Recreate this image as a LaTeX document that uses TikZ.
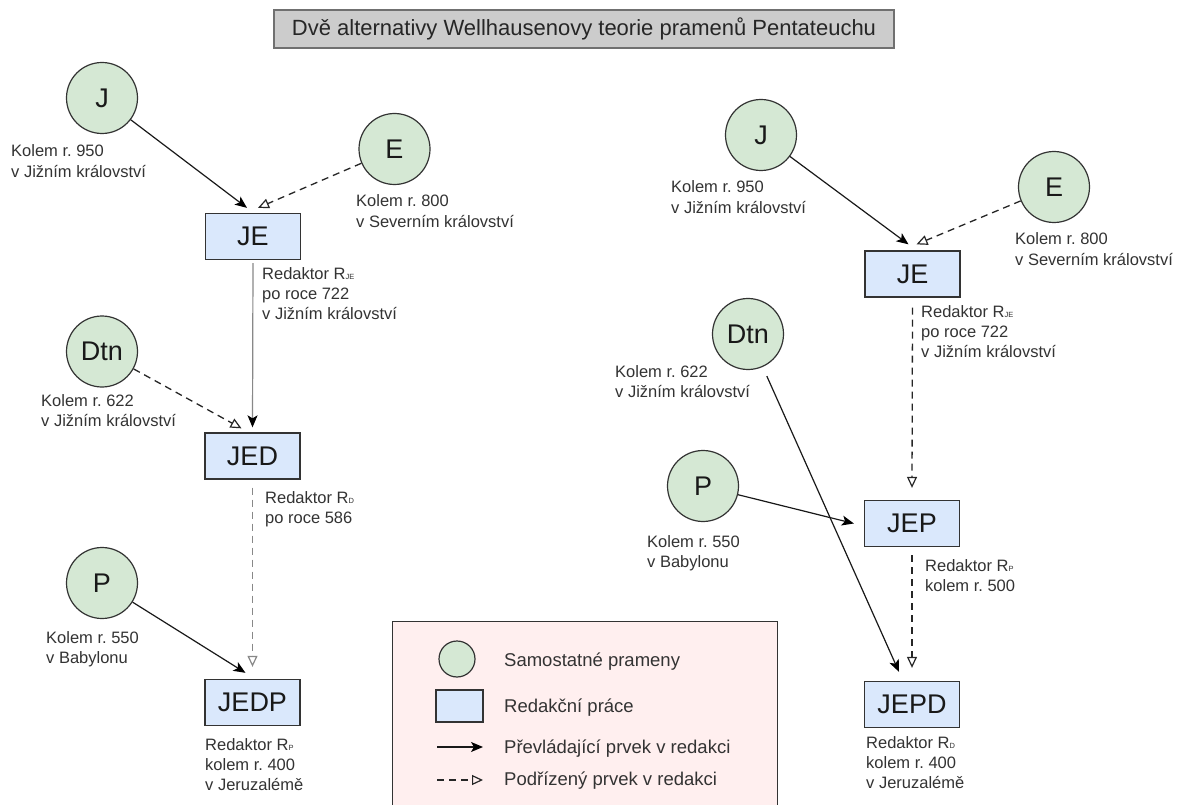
\documentclass[tikz,border=0pt]{standalone}
\usepackage{fontspec}
\setmainfont{Liberation Sans}
\usetikzlibrary{arrows.meta,calc}
\frenchspacing
\definecolor{srcfill}{HTML}{D5E8D4}
\definecolor{redfill}{HTML}{DAE8FC}
\definecolor{titlefill}{HTML}{CCCCCC}
\definecolor{titleedge}{HTML}{707070}
\definecolor{legfill}{HTML}{FFEFEF}
\definecolor{edgecol}{HTML}{333333}
\definecolor{labelcol}{HTML}{333333}
\definecolor{greyline}{HTML}{888888}
\newcommand\rsub[1]{\raisebox{-0.3pt}{\fontsize{7.5}{8}\selectfont #1}}
\begin{document}
\begin{tikzpicture}[x=1pt,y=-1pt,
  srcnode/.style={circle,draw=edgecol,line width=1.2pt,fill=srcfill,minimum size=71pt,inner sep=0pt,font=\fontsize{27}{27}\selectfont,text=black!90},
  redbox/.style={rectangle,draw=edgecol,line width=1.3pt,fill=redfill,minimum width=95pt,minimum height=46pt,inner sep=0pt,font=\fontsize{27}{27}\selectfont,text=black!90},
  lbl/.style={anchor=base west,align=left,inner sep=0pt,font=\fontsize{16.5}{20.3}\selectfont,text=labelcol},
  leglbl/.style={anchor=base west,inner sep=0pt,font=\fontsize{18.5}{22}\selectfont,text=labelcol},
  major/.style={line width=1.2pt,draw=black!90,-{Stealth[length=12pt,width=10pt,inset=3pt,color=black]}},
  minor/.style={line width=1.3pt,draw=black!85,dash pattern=on 7pt off 5pt,-{Triangle[open,length=11pt,width=10pt,line width=1.2pt]}},
]
\useasboundingbox (0,0) rectangle (1187,805);
\path[clip] (0,0) rectangle (1187,805);
\fill[white] (0,0) rectangle (1187,805);

% title
\node[draw=titleedge,line width=1.8pt,fill=titlefill,minimum width=620pt,minimum height=38pt,inner sep=0pt,font=\fontsize{22}{22}\selectfont,text=black!85] (title) at (584,29) {Dvě alternativy Wellhausenovy teorie pramenů Pentateuchu};

% ---------- left diagram ----------
\node[srcnode] (LJ) at (102,98) {J};
\node[srcnode] (LE) at (394.5,149) {E};
\node[srcnode] (LD) at (102,351.5) {Dtn};
\node[srcnode] (LP) at (102,583) {P};
\node[redbox] (LJE) at (253,236.5) {JE};
\node[redbox] (LJED) at (252.5,456) {JED};
\node[redbox] (LJEDP) at (252.5,702.5) {JEDP};

% anchor = baseline of the last line
\node[lbl] (LJl) at (11,177.3) {Kolem r. 950\\v Jižním království};
\node[lbl] (LEl) at (356,227.3) {Kolem r. 800\\v Severním království};
\node[lbl] (LJEl) at (262,319.6) {Redaktor R\rsub{JE}\\po roce 722\\v Jižním království};
\node[lbl] (LDl) at (41,426.3) {Kolem r. 622\\v Jižním království};
\node[lbl] (LJEDl) at (265,523.3) {Redaktor R\rsub{D}\\po roce 586};
\node[lbl] (LPl) at (46,663.3) {Kolem r. 550\\v Babylonu};
\node[lbl] (LJEDPl) at (205,790.6) {Redaktor R\rsub{P}\\kolem r. 400\\v Jeruzalémě};

\draw[major] (LJ) -- ([shift={(-6,-5)}]LJE.north);
\draw[minor] (LE) -- ([shift={(5,-5)}]LJE.north);
\draw[major,draw=greyline] ([shift={(0,3)}]LJE.south) -- ([shift={(0,-5)}]LJED.north);
\draw[minor] (LD) -- ([shift={(-11,-4)}]LJED.north);
\draw[minor,draw=greyline] ([shift={(0,8)}]LJED.south) -- ([shift={(0,-12)}]LJEDP.north);
\draw[major] (LP) -- ([shift={(-7,-6)}]LJEDP.north);

% ---------- right diagram ----------
\node[srcnode] (RJ) at (761,135) {J};
\node[srcnode] (RE) at (1054,187) {E};
\node[srcnode] (RD) at (748,334) {Dtn};
\node[srcnode] (RP) at (703,486) {P};
\node[redbox] (RJE) at (912.5,274) {JE};
\node[redbox] (RJEP) at (912,523.5) {JEP};
\node[redbox] (RJEPD) at (912,704.5) {JEPD};

\node[lbl] (RJl) at (671,213.3) {Kolem r. 950\\v Jižním království};
\node[lbl] (REl) at (1015,265.3) {Kolem r. 800\\v Severním království};
\node[lbl] (RJEl) at (921,357.6) {Redaktor R\rsub{JE}\\po roce 722\\v Jižním království};
\node[lbl] (RDl) at (615,397.3) {Kolem r. 622\\v Jižním království};
\node[lbl] (RPl) at (647,567.3) {Kolem r. 550\\v Babylonu};
\node[lbl] (RJEPl) at (925,591.3) {Redaktor R\rsub{P}\\kolem r. 500};
\node[lbl] (RJEPDl) at (866,788.6) {Redaktor R\rsub{D}\\kolem r. 400\\v Jeruzalémě};

\draw[major] (RJ) -- ([shift={(-4,-6)}]RJE.north);
\draw[minor] (RE) -- ([shift={(4,-6)}]RJE.north);
\draw[minor] ([shift={(0,10)}]RJE.south) -- ([shift={(0,-12)}]RJEP.north);
\draw[major,shorten <=10pt] (RD) -- ([shift={(-13,-9)}]RJEPD.north);
\draw[major] (RP) -- ([shift={(-10,0)}]RJEP.west);
\draw[minor] ([shift={(0,8)}]RJEP.south) -- ([shift={(0,-13)}]RJEPD.north);

% ---------- legend ----------
\node[draw=edgecol,line width=1.3pt,fill=legfill,anchor=north west,minimum width=385pt,minimum height=220pt,inner sep=0pt] (legend) at (392,621) {};
\node[srcnode,minimum size=36pt] (legsrc) at (457,659) {};
\node[redbox,minimum width=47pt,minimum height=32pt] (legred) at (459.5,706) {};
\coordinate (lma) at (437,747);
\coordinate (lmb) at (483,747);
\coordinate (lna) at (437,780);
\coordinate (lnb) at (483,780);
\draw[major] (lma) -- (lmb);
\draw[minor] (lna) -- (lnb);
\node[leglbl] (leg1) at (504,666) {Samostatné prameny};
\node[leglbl] (leg2) at (504,712) {Redakční práce};
\node[leglbl] (leg3) at (504,753) {Převládající prvek v redakci};
\node[leglbl] (leg4) at (504,785) {Podřízený prvek v redakci};
\end{tikzpicture}
\end{document}
